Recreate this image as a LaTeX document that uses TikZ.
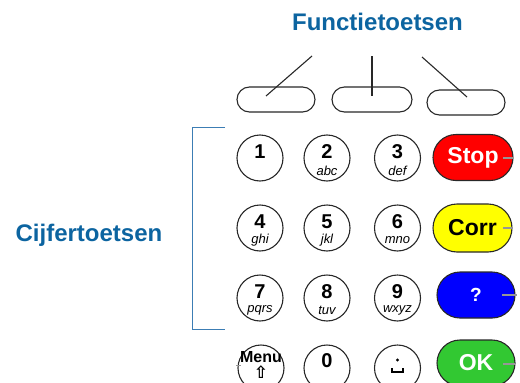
\documentclass[tikz,border=0pt]{standalone}
\usepackage{fontspec}
\setmainfont{Liberation Sans}
\newfontfamily\symfont{DejaVu Sans}
\usetikzlibrary{shapes.misc}
\definecolor{titleblue}{RGB}{12,100,160}
\definecolor{brackblue}{RGB}{60,125,180}
\definecolor{keyred}{RGB}{255,0,0}
\definecolor{keyyellow}{RGB}{255,255,0}
\definecolor{keyblue}{RGB}{0,0,255}
\definecolor{keygreen}{RGB}{50,200,50}
\definecolor{edgegray}{RGB}{40,40,40}
\definecolor{tickgray}{RGB}{150,150,150}
\begin{document}
\begin{tikzpicture}[x=1pt,y=-1pt,
 numkey/.style={circle,draw=edgegray,line width=1.1pt,minimum size=46pt,inner sep=0pt},
 fkey/.style={rounded rectangle,draw=edgegray,line width=1.1pt,minimum width=78pt,minimum height=25pt,inner sep=0pt},
 bigkey/.style={rounded rectangle,draw=edgegray,line width=1.1pt,minimum width=80pt,minimum height=46pt,inner sep=0pt,font=\fontsize{23}{26}\selectfont\bfseries},
 digit/.style={inner sep=0pt,font=\fontsize{20}{22}\selectfont\bfseries},
 letters/.style={inner sep=0pt,font=\fontsize{13}{15}\selectfont\itshape},
 ttl/.style={text=titleblue,font=\fontsize{24}{28}\selectfont\bfseries,inner sep=0pt},
 ptr/.style={edgegray,line width=1.1pt},
 tick/.style={tickgray,line width=1.6pt},
 brk/.style={brackblue,line width=1pt}]
\useasboundingbox (0,0) rectangle (520,383);

% titles
\node[ttl] (ft) at (377.5,22) {Functietoetsen};
\node[ttl] (ct) at (89,235) {Cijfertoetsen};

% function keys
\node[fkey] (f1) at (276,99.5) {};
\node[fkey,minimum width=80pt] (f2) at (372,99.5) {};
\node[fkey] (f3) at (466,102.5) {};
\coordinate (p1) at (312,56); \coordinate (q1) at (266,96);
\coordinate (p2) at (372,56); \coordinate (q2) at (372,96);
\coordinate (p3) at (422,57); \coordinate (q3) at (467,97);
\draw[ptr] (p1) -- (q1);
\draw[ptr] (p2) -- (q2);
\draw[ptr] (p3) -- (q3);

% bracket
\coordinate (b1) at (225,127); \coordinate (b2) at (192,127);
\coordinate (b3) at (192,329); \coordinate (b4) at (225,329);
\draw[brk] (b1) -- (b2) -- (b3) -- (b4);

% number keys
\node[numkey] (k1) at (260,158) {};
\node[numkey] (k2) at (327,158) {};
\node[numkey] (k3) at (397.5,158) {};
\node[numkey] (k4) at (260,228) {};
\node[numkey] (k5) at (327,228) {};
\node[numkey] (k6) at (397.5,228) {};
\node[numkey] (k7) at (260,298) {};
\node[numkey] (k8) at (327,298) {};
\node[numkey] (k9) at (397.5,298) {};
\node[numkey] (k10) at (261,368) {};
\node[numkey] (k11) at (327,368) {};
\node[numkey] (k12) at (397.5,368) {};

\node[digit] (d1) at ([yshift=6.5pt]k1.center) {1};
\node[digit] (d2) at ([yshift=6.5pt]k2.center) {2};
\node[letters] (l2) at ([yshift=-12.5pt]k2.center) {abc};
\node[digit] (d3) at ([yshift=6.5pt]k3.center) {3};
\node[letters] (l3) at ([yshift=-12.5pt]k3.center) {def};
\node[digit] (d4) at ([yshift=6.5pt]k4.center) {4};
\node[letters] (l4) at ([yshift=-12.5pt]k4.center) {ghi};
\node[digit] (d5) at ([yshift=6.5pt]k5.center) {5};
\node[letters] (l5) at ([yshift=-12.5pt]k5.center) {jkl};
\node[digit] (d6) at ([yshift=6.5pt]k6.center) {6};
\node[letters] (l6) at ([yshift=-12.5pt]k6.center) {mno};
\node[digit] (d7) at ([yshift=6.5pt]k7.center) {7};
\node[letters] (l7) at ([yshift=-12.5pt]k7.center) {pqrs};
\node[digit] (d8) at ([yshift=6.5pt]k8.center) {8};
\node[letters] (l8) at ([yshift=-12.5pt]k8.center) {tuv};
\node[digit] (d9) at ([yshift=6.5pt]k9.center) {9};
\node[letters] (l9) at ([yshift=-12.5pt]k9.center) {wxyz};
\node[inner sep=0pt,font=\fontsize{16}{18}\selectfont\bfseries] (menu) at ([yshift=11pt]k10.center) {Menu};
\node[inner sep=0pt,font=\symfont\bfseries\fontsize{17}{19}\selectfont] (shift) at ([yshift=-4.5pt]k10.center) {⇧};
\node[digit] (d0) at ([yshift=7pt]k11.center) {0};
\fill ([yshift=8pt]k12.center) circle (1.7pt);
\draw[line width=1.8pt] ([xshift=-5.5pt,yshift=0pt]k12.center) -- ++(0,4) -- ++(11,0) -- ++(0,-4);

% big function keys
\node[bigkey,fill=keyred,text=white] (stop) at (473,157.5) {Stop};
\node[bigkey,fill=keyyellow,text=black,minimum width=79pt,minimum height=48pt] (corr) at (472.5,228) {Corr};
\node[bigkey,fill=keyblue,text=white,minimum width=78pt,font=\fontsize{19}{21}\selectfont\bfseries] (help) at (476,295) {?};
\node[bigkey,fill=keygreen,text=white,minimum width=78pt] (ok) at (476,363) {OK};

% grey ticks
\coordinate (t1) at (503,158); \coordinate (u1) at (514,158);
\coordinate (t2) at (503,228); \coordinate (u2) at (513,228);
\coordinate (t3) at (502,295); \coordinate (u3) at (517,295);
\coordinate (t4) at (503,364); \coordinate (u4) at (515,364);
\coordinate (t5) at (236,365); \coordinate (u5) at (241,365);
\draw[tick] (t1) -- (u1);
\draw[tick] (t2) -- (u2);
\draw[tick] (t3) -- (u3);
\draw[tick] (t4) -- (u4);
\draw[tick,line width=1pt] (t5) -- (u5);
\end{tikzpicture}
\end{document}
